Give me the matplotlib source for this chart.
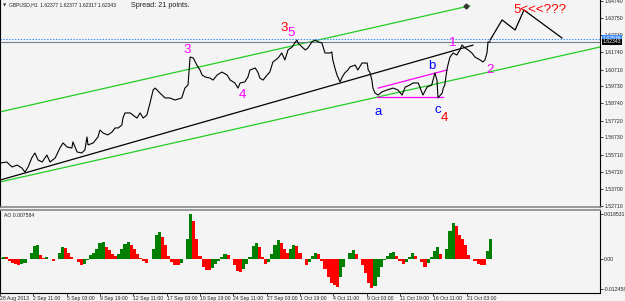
import numpy as np
import matplotlib
matplotlib.use("Agg")
import matplotlib.pyplot as plt

plt.rcParams["font.family"] = ["Liberation Sans", "DejaVu Sans"]

# ---------------- data ----------------
price_bar = [0, 13, 23, 33, 42, 48, 54, 61, 67, 73, 81, 90, 96, 106, 115, 121, 129, 138, 140, 148,
             157, 163, 167, 169, 179, 188, 192, 198, 207, 215, 221, 227, 234, 236, 240, 250, 255, 263,
             269, 275, 282, 288, 294, 298, 307, 317, 326, 336, 349, 355, 361, 365, 371, 378, 384, 388,
             394, 403, 409, 417, 426, 436, 442, 451, 457, 461, 470, 476, 480, 490, 495, 499, 505, 513,
             518, 524, 534, 541, 547, 553, 561, 566, 570, 572, 580, 586, 591, 599, 605, 611, 618, 624,
             634, 637, 639, 643, 647, 653, 657, 662, 668, 672, 682, 687, 695, 701, 705, 707, 710, 714,
             716, 720, 726, 733, 743, 755, 764, 772, 778, 787, 793, 803, 812, 820, 829, 835, 839, 841,
             849, 851, 854, 858, 860, 864, 870, 877, 883, 887, 893, 899, 906, 912, 922, 927, 931, 935,
             937, 941]
close = [1.5523, 1.5529, 1.5500, 1.5511, 1.5494, 1.5470, 1.5500, 1.5553, 1.5582, 1.5541, 1.5529,
         1.5570, 1.5529, 1.5553, 1.5611, 1.5641, 1.5617, 1.5611, 1.5647, 1.5588, 1.5582, 1.5600,
         1.5676, 1.5629, 1.5641, 1.5676, 1.5717, 1.5699, 1.5688, 1.5705, 1.5729, 1.5729, 1.5746,
         1.5787, 1.5817, 1.5817, 1.5805, 1.5787, 1.5817, 1.5787, 1.5805, 1.5875, 1.5952, 1.5963,
         1.5934, 1.5905, 1.5905, 1.5893, 1.5905, 1.5963, 1.5981, 1.6145, 1.6140, 1.6098, 1.6069,
         1.6040, 1.6028, 1.6022, 1.6010, 1.6040, 1.6057, 1.6040, 1.6010, 1.5993, 1.5963, 1.5993,
         1.5999, 1.6028, 1.6069, 1.6081, 1.6057, 1.6022, 1.6010, 1.6040, 1.6057, 1.6116, 1.6140,
         1.6169, 1.6128, 1.6187, 1.6204, 1.6228, 1.6245, 1.6228, 1.6204, 1.6187, 1.6198, 1.6234,
         1.6245, 1.6234, 1.6228, 1.6169, 1.6169, 1.6175, 1.6128, 1.6081, 1.6040, 1.5999, 1.6028,
         1.6052, 1.6069, 1.6087, 1.6098, 1.6069, 1.6110, 1.6110, 1.6110, 1.6069, 1.6057, 1.6010,
         1.5963, 1.5934, 1.5922, 1.5940, 1.5952, 1.5963, 1.5952, 1.5922, 1.5969, 1.5981, 1.5993,
         1.5993, 1.5922, 1.5969, 1.5981, 1.6052, 1.6010, 1.5905, 1.5934, 1.5963, 1.5981, 1.6069,
         1.6098, 1.6145, 1.6169, 1.6157, 1.6187, 1.6216, 1.6198, 1.6187, 1.6169, 1.6145, 1.6128,
         1.6116, 1.6128, 1.6169, 1.6234, 1.6234]

# Awesome Oscillator, in units of 1e-4, one value every 6 bars
ao_step = 6
ao_e4 = [4, 8, 8, -8, -17, -21, -25, -21, -17, 0, 25, 54, 58, 17, 4, 8, 0, -8, 0, 25, 50, 45, 25,
         8, 0, -12, -25, -21, -4, 17, 25, 41, 66, 70, 50, 37, 21, 12, 21, 41, 62, 70, 58, 41, 21, 4,
         -8, -17, 0, 41, 99, 112, 91, 58, 12, -12, -25, -25, -17, 0, 83, 186, 157, 83, 12, -33,
         -45, -45, -37, -21, -8, 8, 21, 17, 0, -25, -50, -54, -41, -21, 8, 54, 66, 50, 8, -21, -12,
         21, 58, 78, 66, 41, 25, 41, 58, 54, 25, 0, -25, -12, 12, 25, 21, -8, -41, -74, -99, -107,
         -116, -74, -33, 0, 25, 37, 21, 0, -25, -58, -99, -120, -112, -74, -33, -4, 12, 25, 29, 12,
         -8, -21, -12, 8, 25, 12, 0, -12, -33, -17, 8, 33, 50, 21, 0, 41, 116, 149, 136, 99, 83,
         58, 17, 0, -8, -21, -25, -25, 33, 83]

# trend / channel lines (bar, price)
upper_green = ([0, 902], [1.5823, 1.6446])
lower_green = ([0, 1152], [1.5412, 1.6204])
mid_black = ([0, 908], [1.5423, 1.6215])
mag_upper = ([726, 858], [1.5963, 1.6069])
mag_lower = ([724, 851], [1.5911, 1.5911])
proj_bar = [941, 964, 989, 1006, 1079]
proj_price = [1.6245, 1.6363, 1.6304, 1.6421, 1.6257]

ask_price = 1.62536
bid_price = 1.62343

price_ticks = [1.64740, 1.63750, 1.62730, 1.61740, 1.60710, 1.59730, 1.58740, 1.57720,
               1.56730, 1.55710, 1.54720, 1.53700, 1.52710]
time_labels = ["28 Aug 2013", "2 Sep 11:00", "5 Sep 03:00", "9 Sep 19:00", "12 Sep 11:00",
               "17 Sep 03:00", "19 Sep 19:00", "24 Sep 11:00", "27 Sep 03:00", "1 Oct 19:00",
               "4 Oct 11:00", "9 Oct 03:00", "11 Oct 19:00", "16 Oct 11:00", "21 Oct 03:00"]
bars_per_label = 64
ao_ticks = [0.018531, 0.0, -0.012458]
ao_tick_labels = ["0.018531", "0.00", "-0.012458"]

# wave labels: (text, bar, price, color)
wave_labels = [("3", 359, 1.6187, "#ff00ff"), ("4", 465, 1.5922, "#ff00ff"),
               ("3", 545, 1.6316, "#ff0000"), ("5", 559, 1.6286, "#ff00ff"),
               ("a", 726, 1.5823, "#0000ff"), ("b", 829, 1.6093, "#0000ff"),
               ("c", 841, 1.5834, "#0000ff"), ("4", 854, 1.5787, "#ff0000"),
               ("1", 870, 1.6228, "#ff00ff"), ("2", 941, 1.6069, "#ff00ff"),
               ("5<<<???", 1037, 1.6421, "#ff0000")]

# ---------------- figure ----------------
W, H = 625, 301
bg = "#f4f4f4"
fs = 3.7
fig = plt.figure(figsize=(W / 100, H / 100), dpi=100)
fig.patch.set_facecolor(bg)

YMIN, YMAX = 1.5265, 1.6480
ax = fig.add_axes([0, 1 - 207 / H, 600 / W, 207 / H])
ax2 = fig.add_axes([0, 1 - 293 / H, 600 / W, 83 / H])
for a in (ax, ax2):
    a.set_facecolor(bg)
    a.set_xlim(0, 1152)

ax.set_ylim(YMIN, YMAX)
green = "#22cc22"
ax.plot(*upper_green, color=green, lw=0.9)
ax.plot(*lower_green, color=green, lw=0.9)
ax.plot(*mid_black, color="black", lw=0.9)
ax.plot(*mag_upper, color="#ff00ff", lw=0.9)
ax.plot(*mag_lower, color="#ff00ff", lw=0.9)
ax.axhline(ask_price, color="#3c8cff", lw=0.7, ls=(0, (1.5, 1.5)))
ax.axhline(bid_price, color="#708090", lw=0.8)
ax.plot(price_bar, close, color="black", lw=0.8)
ax.plot(proj_bar, proj_price, color="black", lw=0.9)
ax.plot([upper_green[0][1] - 8], [upper_green[1][1] - 0.0003], marker="D", ms=2.5, color="#333333")

for t, b, p, c in wave_labels:
    ax.text(b, p, t, color=c, fontsize=9.5, ha="center", va="center")

ax.text(0.005, 0.975, "\u25bc", transform=ax.transAxes, fontsize=3, color="#333333",
        va="center", family="DejaVu Sans")
ax.text(0.015, 0.975, "GBPUSD,H1  1.62377 1.62377 1.62317 1.62343", transform=ax.transAxes,
        fontsize=3.6, color="#222222", va="center")
ax.text(0.218, 0.972, "Spread: 21 points.", transform=ax.transAxes, fontsize=5.2,
        color="#222222", va="center")

ax.yaxis.tick_right()
ax.set_yticks(price_ticks)
ax.set_yticklabels([f"{v:.5f}" for v in price_ticks])
ax.tick_params(axis="y", labelsize=fs, length=2, width=0.6, pad=1, colors="#222222")
ax.set_xticks([])
ax.spines["top"].set_visible(False)
ax.spines["bottom"].set_color("#888888")
ax.spines["bottom"].set_linewidth(1.2)
ax.spines["left"].set_linewidth(0.8)
ax.spines["right"].set_linewidth(0.8)

# price boxes on the axis (drawn over the regular tick labels, as in the terminal)
for val, fc in ((ask_price, "#3c8cff"), (bid_price, "black")):
    ax.text(1.005, (val - YMIN) / (YMAX - YMIN), f"{val:.5f}", transform=ax.transAxes,
            fontsize=fs, color="white", va="center", ha="left", zorder=10, clip_on=False,
            bbox=dict(boxstyle="square,pad=0.12", fc=fc, ec="none"))

# AO panel
ao = np.array(ao_e4) * 1e-4
ao_bar = np.arange(len(ao)) * ao_step
cols = ["#008000" if i == 0 or ao[i] > ao[i - 1] else "#ff0000" for i in range(len(ao))]
ax2.bar(ao_bar, ao, width=ao_step, color=cols, align="center", linewidth=0)
ax2.set_ylim(-0.01404, 0.02024)
ax2.yaxis.tick_right()
ax2.set_yticks(ao_ticks)
ax2.set_yticklabels(ao_tick_labels)
ax2.tick_params(axis="y", labelsize=fs, length=2, width=0.6, pad=0.6, colors="#222222")
ax2.text(0.006, 0.93, "AO 0.007584", transform=ax2.transAxes, fontsize=fs, color="#222222", va="center")
ax2.spines["top"].set_color("#888888")
ax2.spines["top"].set_linewidth(1.2)

xt = np.arange(len(time_labels)) * bars_per_label
ax2.set_xticks(xt)
ax2.set_xticklabels(time_labels, ha="left")
ax2.tick_params(axis="x", labelsize=fs, length=2, width=0.6, pad=0.5, colors="#222222")

fig.savefig("out.png", dpi=100, facecolor=bg)
